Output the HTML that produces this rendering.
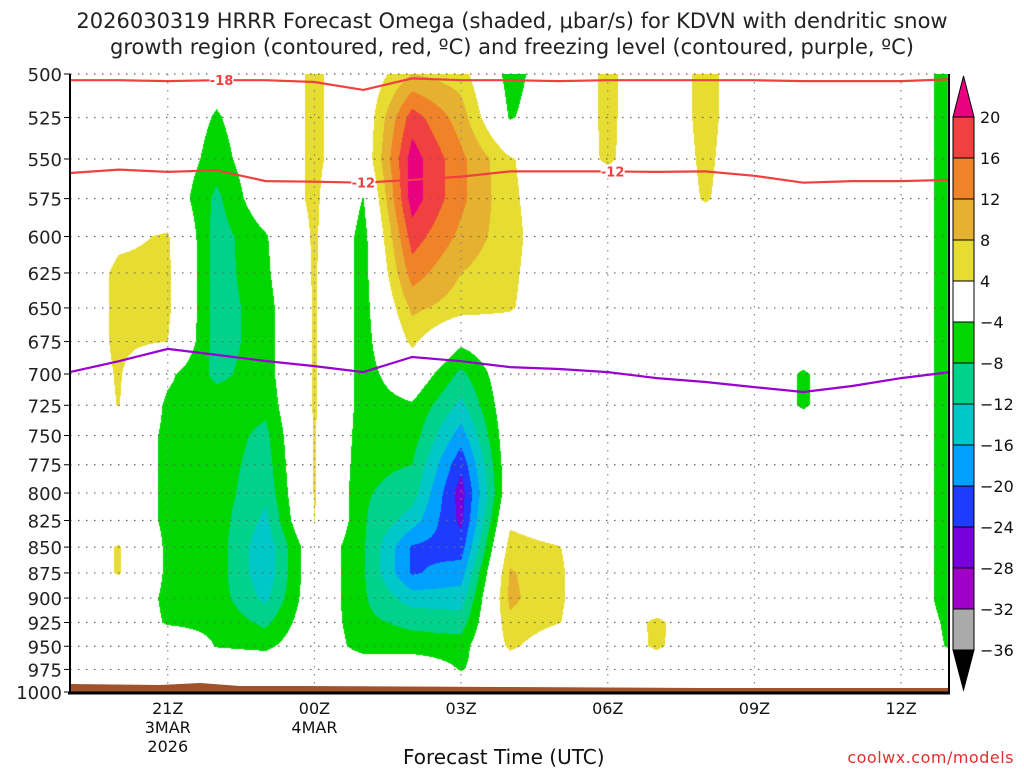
<!DOCTYPE html>
<html><head><meta charset="utf-8"><style>
body{margin:0;background:#fff;width:1024px;height:768px;overflow:hidden;position:relative;font-family:"DejaVu Sans","Liberation Sans",sans-serif}
#cv{position:absolute;left:70px;top:74px}
svg{position:absolute;left:0;top:0}
svg text{font-family:"DejaVu Sans","Liberation Sans",sans-serif}
</style></head><body>
<canvas id="cv" width="880" height="620"></canvas>
<svg id="sv" width="1024" height="768"></svg>
<script>
// ---- data ----
const levels=[500,525,550,575,600,625,650,675,700,725,750,775,800,825,850,875,900,925,950,975,1000];
const hours=[0,1,2,3,4,5,6,7,8,9,10,11,12,13,14,15,16,17,18]; // hours after 19Z
const Z=Array(21).fill(0);
const om19=Z.slice();
const om20=[0,0,0,0,3,5,5,5,4.5,4.2,0,0,0,0,4.4,4.4,0,0,0,0,0];
const om21=[0,0,0,0,4.5,5,5,4,-3,-5,-5,-5,-5,-5,-5,-5,-5,-4.5,0,0,0];
const om22=[-2,-4.5,-6,-9,-10,-10,-10,-10,-9,-6,-6,-6,-6,-6,-6,-6,-6,-5,-4.2,0,0];
const om23=[0,0,0,0,-4.5,-5,-6,-6,-6,-7,-9,-10,-11,-13,-15,-15,-13,-9,-5,0,0];
const om00=[5,5,5,5,4.8,4.6,4.6,4.6,4.5,4.5,4.4,4.4,4.3,4.2,0,0,0,0,0,0,0];
const om01=[0,0,0,-4.2,-6,-6,-6,-6,-6,-6,-6.5,-7,-7.5,-7.5,-7.5,-7.5,-7.5,-7,-6,0,0];
const om02=[8,18,22,22,18,14,9,5,0,-4.5,-6,-8,-10,-14,-20.5,-20.5,-14,-9,-6,0,0];
const om03=[6,10,13,13,11,8,6,-3,-9,-13,-18,-23,-26,-25,-22,-18,-14,-10,-6,-4.3,0];
const om04=[-6,-4.5,4.5,5,5.5,5,4.5,0,0,0,0,0,0,3,6,8.5,9,7,5,0,0];
const om05=[0,0,0,0,0,0,0,0,0,0,0,0,0,0,4.2,4.6,4.6,4.2,0,0,0];
const om06=[5,5,4.8,0,0,0,0,0,0,0,0,0,0,0,0,0,0,0,0,0,0];
const om07=[0,0,0,0,0,0,0,0,0,0,0,0,0,0,0,0,0,5,4.8,0,0];
const om08=[5.5,5.5,5,4.5,0,0,0,0,0,0,0,0,0,0,0,0,0,0,0,0,0];
const om09=Z.slice();
const om10=[0,0,0,0,0,0,0,0,-4.6,-4.6,0,0,0,0,0,0,0,0,0,0,0];
const om11=Z.slice();
const om12=Z.slice();
const om13=[-6,-6,-6,-6,-6,-6,-6,-6,-6,-6,-6,-6,-6,-6,-6,-6,-6,-5,-4.5,0,0];
const omega=[om19,om20,om21,om22,om23,om00,om01,om02,om03,om04,om05,om06,om07,om08,om09,om10,om11,om12,om13];
const isoM18=[503.5,503.5,504,503.5,503.5,504.5,509,502.5,503.5,503.5,504,503.5,503.5,503.5,503.5,504,504,504,503];
const isoM12=[558.7,556.6,558,557,563.8,564.2,564.8,563,561,557.7,557.7,557.7,558,557.7,560.5,564.8,563.8,563.8,563];
const iso0=[698.5,690,680.6,685.2,689.9,693.8,698.5,686.8,690,694.6,696.1,698.5,703.2,706.3,710.4,714.3,709.5,703.2,698.5];
const xTicks=[2,5,8,11,14,17];
const xTickLabels=[["21Z","3MAR","2026"],["00Z","4MAR"],["03Z"],["06Z"],["09Z"],["12Z"]];
const cbBounds=[20,16,12,8,4,-4,-8,-12,-16,-20,-24,-28,-32,-36];
const cbColors=["#f04040","#f08228","#e6b030","#e6dc32","#ffffff","#00d700","#00d28c","#00c8c8","#00a0ff","#1e3cff","#7800dc","#a000c8","#aaaaaa"];
// ---- axes ----
const X0=70,X1=950,Y0=74,Y1=692;
const xOf=h=>X0+h*(X1-X0)/18;
const yOf=p=>Y0+Math.log(p/500)/Math.log(2)*(Y1-Y0);
function col(v){
 if(v>=20)return[232,0,127];if(v>=16)return[240,64,64];if(v>=12)return[240,130,40];if(v>=8)return[230,176,48];
 if(v>=4)return[230,220,50];if(v>-4)return null;if(v>-8)return[0,215,0];if(v>-12)return[0,210,140];
 if(v>-16)return[0,200,200];if(v>-20)return[0,160,255];if(v>-24)return[30,60,255];if(v>-28)return[120,0,220];
 if(v>-32)return[160,0,200];if(v>-36)return[170,170,170];return[0,0,0];}
const cv=document.getElementById('cv'),ctx=cv.getContext('2d');
const W=878,H=618,img=ctx.createImageData(880,620);
const ly=levels.map(yOf);
for(let py=0;py<H;py++){
 const y=Y0+py+0.5;let i=0;while(i<19&&ly[i+1]<y)i++;
 const fy=Math.min(1,Math.max(0,(y-ly[i])/(ly[i+1]-ly[i])));
 for(let px=0;px<W;px++){
  const t=(px+0.5)/(X1-X0)*18;let j=Math.min(17,Math.floor(t));const fx=t-j;
  const a=omega[j][i],b=omega[j+1][i],c=omega[j][i+1],d=omega[j+1][i+1];
  const v=(a*(1-fx)+b*fx)*(1-fy)+(c*(1-fx)+d*fx)*fy;
  const cl=col(v);if(!cl)continue;const k=(py*880+px)*4;
  img.data[k]=cl[0];img.data[k+1]=cl[1];img.data[k+2]=cl[2];img.data[k+3]=255;}}
ctx.putImageData(img,0,0);
// ---- svg ----
const NS="http://www.w3.org/2000/svg",sv=document.getElementById('sv');
function el(t,a,p){const e=document.createElementNS(NS,t);for(const k in a)e.setAttribute(k,a[k]);(p||sv).appendChild(e);return e;}
function txt(s,a){const e=el('text',a);e.textContent=s;return e;}
levels.forEach(p=>{const y=yOf(p);
 const g=el('line',{x1:X0,x2:948,y1:y,y2:y,stroke:'#666','stroke-width':1.2,'stroke-dasharray':'1.5 6.5'});
 
 const tk=el('line',{x1:64,x2:70,y1:y,y2:y,stroke:'#000'});
 
 const l=txt(p,{x:62,y:y+7,'text-anchor':'end','font-size':18,fill:'#222'});
 });
xTicks.forEach((h,i)=>{const x=xOf(h);
 const g=el('line',{x1:x,x2:x,y1:Y0,y2:Y1,stroke:'#888','stroke-width':1.2,'stroke-dasharray':'1.5 6.5'});
 
 xTickLabels[i].forEach((s,k)=>{const l=txt(s,{x:x,y:714+k*19,'text-anchor':'middle','font-size':16,fill:'#111'});
  });});
// ground
const gr=el('polygon',{points:'70,684 160,685 200,683 240,686 300,686 500,687 700,688 948,688 948,693 70,693',fill:'#a0522d'});

function iso(arr,color,name){const pts=arr.map((p,i)=>xOf(i).toFixed(1)+','+yOf(p).toFixed(1)).join(' ');
 const l=el('polyline',{points:pts,fill:'none',stroke:color,'stroke-width':2.2});
 }
iso(isoM18,'#f04040','isotherm-minus18');iso(isoM12,'#f04040','isotherm-minus12');iso(iso0,'#9a00d0','freezing-level');
function lab(s,h,arr){const x=xOf(h),y=yOf(arr[Math.round(h)]);
 const r=el('rect',{x:x-12,y:y-7,width:24,height:14,fill:'#fff'});
 
 const t=txt(s,{x:x,y:y+5,'text-anchor':'middle','font-size':13,'font-weight':'bold',fill:'#f04040'});
 }
lab('-18',3.1,isoM18);lab('-12',6,isoM12);lab('-12',11.1,isoM12);
// frame
[[70,74,70,694,2],[68,693,950,693,3],[949,74,949,694,2]].forEach(a=>{const f=el('line',{x1:a[0],y1:a[1],x2:a[2],y2:a[3],stroke:'#000','stroke-width':a[4]});
 });
// colorbar
const cbX=953,cbW=21,cbTop=117,cbStep=(650-117)/13;
const tu=el('polygon',{points:`${cbX},${cbTop} ${cbX+cbW},${cbTop} ${cbX+cbW/2},76`,fill:'#e8007f',stroke:'#000'});

const td=el('polygon',{points:`${cbX},650 ${cbX+cbW},650 ${cbX+cbW/2},690`,fill:'#000',stroke:'#000'});

cbColors.forEach((c,i)=>{const r=el('rect',{x:cbX,y:cbTop+i*cbStep,width:cbW,height:cbStep,fill:c,stroke:'#000','stroke-width':1});
 });
cbBounds.forEach((v,i)=>{const t=txt(v<0?'\u2212'+(-v):v,{x:980,y:cbTop+i*cbStep+6,'font-size':16,fill:'#111'});
 });
</script>
<div style="position:absolute;left:0;width:1024px;top:8px;text-align:center;font-size:21px;line-height:26px;color:#222;white-space:nowrap">2026030319 HRRR Forecast Omega (shaded, &mu;bar/s) for KDVN with dendritic snow<br>growth region (contoured, red, &ordm;C) and freezing level (contoured, purple, &ordm;C)</div>
<div style="position:absolute;left:403px;top:745px;font-size:20px;color:#111">Forecast Time (UTC)</div>
<div style="position:absolute;right:10px;top:748px;font-size:16px;color:#e03030;letter-spacing:0.5px">coolwx.com/models</div>
</body></html>
